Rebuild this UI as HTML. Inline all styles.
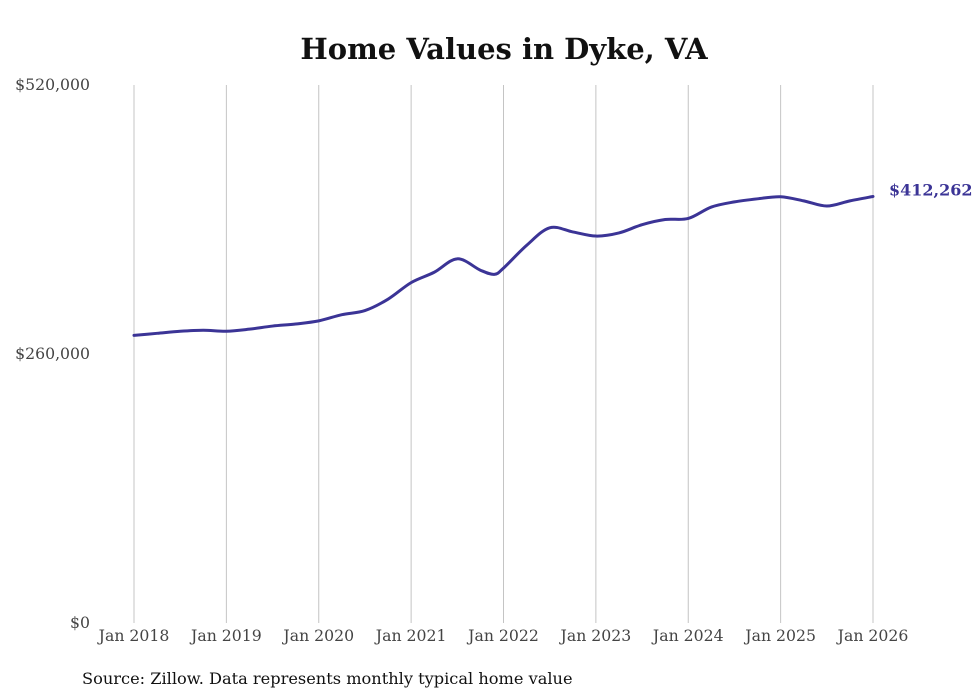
<!DOCTYPE html>
<html><head><meta charset="utf-8"><style>
body{margin:0;background:#fff;}
svg{display:block;font-family:"DejaVu Serif",serif;}
</style></head><body>
<svg id="chart" width="980" height="699">
<text x="504" y="59" text-anchor="middle" font-size="29" font-weight="bold" fill="#111">Home Values in Dyke, VA</text>
<g id="grid"></g><g id="yaxis"></g><g id="xaxis"></g><g id="series"></g>
<text x="82" y="684" font-size="16.2" fill="#111">Source: Zillow. Data represents monthly typical home value</text>
</svg>
<script>
const dates=[2018,2018.25,2018.5,2018.75,2019,2019.25,2019.5,2019.75,2020,2020.25,2020.5,2020.75,2021,2021.25,2021.5,2021.75,2021.9,2022,2022.25,2022.5,2022.75,2023,2023.25,2023.5,2023.75,2024,2024.25,2024.5,2024.75,2025,2025.25,2025.5,2025.75,2026];
const values=[278000,280000,282000,283000,282000,284000,287000,289000,292000,298000,302000,313000,329000,339000,352000,341000,337000,343000,365000,382000,378000,374000,377000,385000,390000,391000,402000,407000,410000,412000,408000,403000,408000,412262];
const yTicks=[0,260000,520000];
const yTickLabels=["$0","$260,000","$520,000"];
const xTicks=[2018,2019,2020,2021,2022,2023,2024,2025,2026];
const xTickLabels=["Jan 2018","Jan 2019","Jan 2020","Jan 2021","Jan 2022","Jan 2023","Jan 2024","Jan 2025","Jan 2026"];
const lastLabel="$412,262";
const NS="http://www.w3.org/2000/svg";
const x=d=>134+(d-2018)*(873-134)/8;
const y=v=>623-v*(623-85)/520000;
function mk(t,a,p){const e=document.createElementNS(NS,t);for(const k in a)e.setAttribute(k,a[k]);p.appendChild(e);return e;}
const grid=document.getElementById('grid'),ya=document.getElementById('yaxis'),xa=document.getElementById('xaxis'),se=document.getElementById('series');
xTicks.forEach((d,i)=>{
 const l=mk('line',{x1:x(d),x2:x(d),y1:85,y2:623,stroke:'#c4c4c4','stroke-width':1},grid);
 
 
 const t=mk('text',{x:x(d),y:641,'text-anchor':'middle','font-size':15.7,fill:'#444'},xa);
 t.textContent=xTickLabels[i];
 
 
});
yTicks.forEach((v,i)=>{
 const t=mk('text',{x:90,y:y(v)+5,'text-anchor':'end','font-size':15.7,fill:'#444'},ya);
 t.textContent=yTickLabels[i];
 
 
});
const P=dates.map((d,i)=>[x(d),y(values[i])]);
let dstr='M'+P[0][0]+','+P[0][1];
for(let i=0;i<P.length-1;i++){
 const p0=P[Math.max(0,i-1)],p1=P[i],p2=P[i+1],p3=P[Math.min(P.length-1,i+2)];
 const c1=[p1[0]+(p2[0]-p0[0])/6,p1[1]+(p2[1]-p0[1])/6],c2=[p2[0]-(p3[0]-p1[0])/6,p2[1]-(p3[1]-p1[1])/6];
 dstr+=`C${c1[0]},${c1[1]} ${c2[0]},${c2[1]} ${p2[0]},${p2[1]}`;
}
const path=mk('path',{d:dstr,fill:'none',stroke:'#3b3496','stroke-width':3,'stroke-linejoin':'round','stroke-linecap':'round'},se);


const last=P[P.length-1];
const lt=mk('text',{x:last[0]+16,y:last[1]-1,'font-size':16,'font-weight':'bold',fill:'#3b3496'},se);
lt.textContent=lastLabel;


</script>
</body></html>
